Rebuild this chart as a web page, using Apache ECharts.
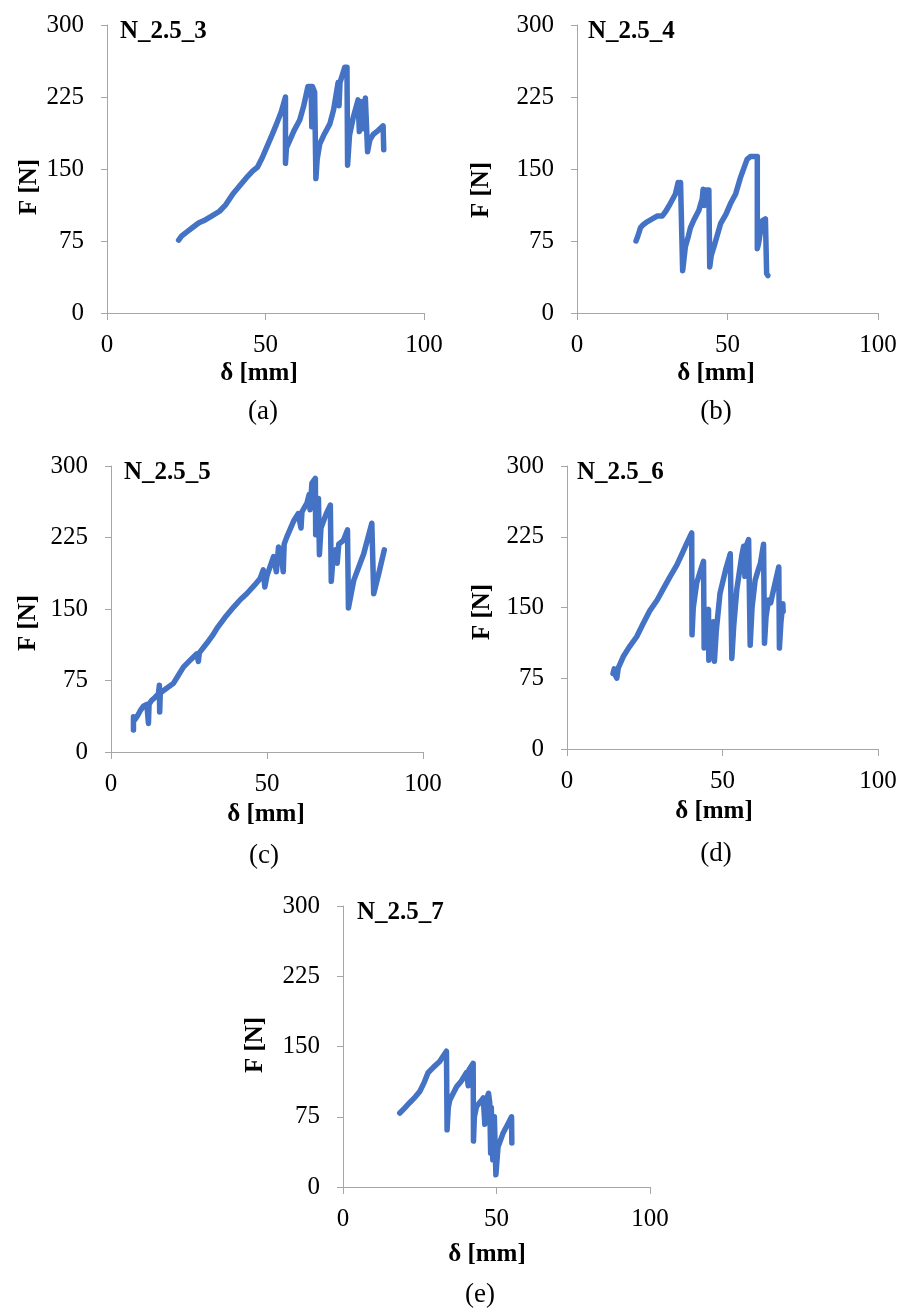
<!DOCTYPE html>
<html>
<head>
<meta charset="utf-8">
<script src="https://cdn.jsdelivr.net/npm/echarts@6/dist/echarts.min.js"></script>
<style>
  html, body { margin: 0; padding: 0; background: #fff; }
</style>
</head>
<body>
<div id="main" style="width: 900px;height:1313px;"></div>
<script>
// 每个试样的 δ [mm] - F [N] 曲线
var sampleNames = ["N_2.5_3", "N_2.5_4", "N_2.5_5", "N_2.5_6", "N_2.5_7"];
var captions = ["(a)", "(b)", "(c)", "(d)", "(e)"];
var xTicks = [0, 50, 100];
var yTicks = [0, 75, 150, 225, 300];

var curveA = [
  [22.6, 76], [23.5, 80], [25, 84], [27, 89], [29, 94], [31, 97], [33, 101], [35.5, 106],
  [37.5, 113], [39.7, 124], [42, 133], [44, 141], [46, 148], [47.5, 152], [49, 162],
  [50.3, 172], [52, 185], [53.5, 197], [55, 210], [56.3, 225], [56.3, 156], [56.6, 172],
  [57.7, 180], [59, 190], [60.8, 201], [62, 215], [63.4, 236], [64.4, 236], [64.6, 194],
  [64.8, 236], [65.5, 230], [65.9, 140], [66.3, 160], [67.1, 176], [68.5, 186], [70.3, 197],
  [71.5, 212], [72.9, 240], [73.2, 216], [73.5, 240], [75, 256], [75.7, 256], [75.9, 154],
  [76.5, 185], [77.7, 204], [79.2, 222], [79.6, 189], [80.3, 220], [80.8, 192], [81.5, 224],
  [81.9, 224], [82.2, 168], [82.9, 180], [84, 186], [85.5, 190], [87.1, 195], [87.3, 170]
];
var curveB = [
  [19.6, 75], [20.2, 80], [21.1, 89], [22, 92], [23.3, 95], [25, 98], [26.6, 101], [28.3, 101],
  [29.5, 106], [31, 114], [32.7, 124], [33.6, 136], [34.1, 128], [34.4, 136], [35, 136],
  [35.1, 44], [35.5, 55], [36, 69], [37, 80], [37.7, 89], [39, 98], [40.5, 107], [41.6, 119],
  [41.9, 129], [42.3, 112], [42.7, 128], [43.8, 128], [44.1, 48], [44.6, 60], [45.5, 69],
  [46.5, 80], [47.7, 93], [49.5, 103], [51, 114], [52.7, 124], [54.3, 141], [56.5, 160],
  [57.6, 163], [59.9, 163], [59.9, 67], [60.3, 72], [61.5, 96], [62.6, 98], [63, 41], [63.4, 39]
];
var curveC = [
  [7.2, 23], [7.2, 37], [7.7, 34], [8.5, 38], [9.5, 44], [10.4, 48], [11.5, 50], [12, 30],
  [12.2, 50], [13, 54], [14, 57], [15.2, 61], [15.5, 70], [15.6, 42], [15.8, 62], [17.5, 66],
  [20, 72], [21.5, 80], [23.2, 89], [25, 95], [27.5, 103], [28, 95], [28.3, 104], [30.7, 114],
  [32.5, 122], [34, 130], [36.5, 141], [39.3, 152], [41.5, 160], [43.5, 166], [46, 175],
  [47.8, 182], [48.8, 191], [49.3, 173], [50, 185], [52.1, 205], [53, 189], [53.7, 215],
  [54.5, 210], [55.2, 189], [55.5, 218], [56.4, 226], [58.5, 242], [60, 250], [60.9, 235],
  [61.2, 252], [62.8, 261], [63.5, 270], [63.8, 254], [64.4, 282], [65.5, 287], [65.6, 228],
  [66, 250], [66.5, 266], [66.8, 207], [67.3, 235], [69, 250], [70.3, 259], [70.6, 179],
  [71.2, 205], [72, 212], [72.5, 198], [73, 218], [74.5, 222], [75.8, 233], [76.1, 151],
  [77.8, 180], [81, 208], [83.6, 240], [84.2, 166], [85.8, 187], [87.6, 212]
];
var curveD = [
  [14.8, 80], [15.2, 85], [15.6, 78], [16, 75], [16.5, 86], [18.1, 98], [20, 108], [22.4, 119],
  [24.5, 133], [26.7, 147], [29, 158], [31, 170], [33, 182], [35.3, 195], [37, 207], [38.5, 218],
  [40.1, 229], [40.2, 121], [40.6, 150], [41.7, 176], [43, 190], [43.9, 199], [44.1, 107],
  [44.6, 125], [45.5, 148], [45.6, 94], [46.2, 115], [47.1, 135], [47.4, 93], [48, 125],
  [49.2, 165], [51, 190], [52.5, 207], [53, 96], [53.6, 130], [54.6, 169], [56.2, 205],
  [56.8, 215], [57.2, 183], [57.6, 215], [58.4, 222], [58.9, 110], [59.5, 150], [60.5, 179],
  [61.5, 190], [62.2, 197], [63.2, 217], [63.5, 112], [64, 140], [64.8, 158], [65.5, 155],
  [66.5, 170], [68.1, 193], [68.3, 107], [68.8, 135], [69.4, 154], [69.5, 146]
];
var curveE = [
  [18.5, 79], [20, 84], [21.7, 90], [23.5, 96], [25, 102], [26.5, 112], [27.7, 122], [29.5, 128],
  [31.5, 134], [32.5, 139], [33.7, 145], [33.9, 61], [34.3, 85], [34.8, 93], [37, 107],
  [38.5, 113], [40.2, 122], [40.8, 108], [41, 125], [42.4, 132], [42.5, 49], [42.8, 75],
  [43.5, 86], [45, 92], [45.7, 95], [46.2, 67], [46.5, 92], [47.4, 100], [47.8, 90], [48.1, 36],
  [48.3, 85], [48.8, 29], [49.3, 75], [49.6, 75], [49.8, 13], [50.5, 43], [51.3, 50], [52.2, 58],
  [53.5, 66], [54.9, 75], [55, 47]
];
var curves = [curveA, curveB, curveC, curveD, curveE];

// 每个子图的绘图区位置
var grids = [
  { left: 107, top: 25, width: 317, height: 288 },
  { left: 577, top: 25, width: 301, height: 288 },
  { left: 111, top: 466, width: 312, height: 286 },
  { left: 567, top: 466, width: 311, height: 283 },
  { left: 343, top: 906, width: 307, height: 281 }
];

var serif = '"Liberation Serif", "Times New Roman", serif';
var lineColor = "#4472C4";
var axisGray = "#A6A6A6";

var myChart = echarts.init(document.getElementById("main"));

var xAxes = [], yAxes = [], series = [], graphics = [];
grids.forEach(function(g, i) {
  xAxes.push({
    gridIndex: i,
    type: "value",
    min: xTicks[0],
    max: xTicks[xTicks.length - 1],
    interval: 50,
    splitLine: { show: false },
    axisLine: { lineStyle: { color: axisGray, width: 1 } },
    axisTick: { show: true, length: 7, lineStyle: { color: axisGray } },
    axisLabel: { color: "#000", fontFamily: serif, fontSize: 25, margin: 20 }
  });
  yAxes.push({
    gridIndex: i,
    type: "value",
    min: yTicks[0],
    max: yTicks[yTicks.length - 1],
    interval: 75,
    splitLine: { show: false },
    axisLine: { show: true, lineStyle: { color: axisGray, width: 1 } },
    axisTick: { show: true, length: 6, lineStyle: { color: axisGray } },
    axisLabel: { color: "#000", fontFamily: serif, fontSize: 25, margin: 23 }
  });
  series.push({
    name: sampleNames[i],
    type: "line",
    xAxisIndex: i,
    yAxisIndex: i,
    showSymbol: false,
    animation: false,
    lineStyle: { color: lineColor, width: 5.5, join: "round", cap: "round" },
    data: curves[i]
  });
});

// 文字位置（样品名、坐标轴名称、子图编号）
var nameLabels = [[120, 32], [588, 32], [124, 473], [577, 473], [357, 913]];
var yNames = [[30, 187], [482, 190], [29, 623], [483, 612], [256, 1045]];
var xNames = [[259, 374], [716, 374], [266, 815], [714, 812], [487, 1255]];
var capPos = [[263, 412], [716, 412], [264, 856], [716, 854], [480, 1295]];

function txt(x, y, s, font, align, rot) {
  return {
    type: "text",
    x: x,
    y: y,
    rotation: rot || 0,
    style: {
      text: s,
      font: font,
      fill: "#000",
      textAlign: align,
      textVerticalAlign: "middle",
      align: align,
      verticalAlign: "middle"
    }
  };
}

for (var i = 0; i < 5; i++) {
  graphics.push(txt(nameLabels[i][0], nameLabels[i][1], sampleNames[i], "bold 25px " + serif, "left"));
  graphics.push(txt(yNames[i][0], yNames[i][1], "F [N]", "bold 25px " + serif, "center", Math.PI / 2));
  graphics.push(txt(xNames[i][0], xNames[i][1], "δ [mm]", "bold 25px " + serif, "center"));
  graphics.push(txt(capPos[i][0], capPos[i][1], captions[i], "27px " + serif, "center"));
}

var option = {
  backgroundColor: "#fff",
  animation: false,
  grid: grids,
  xAxis: xAxes,
  yAxis: yAxes,
  series: series,
  graphic: graphics
};
myChart.setOption(option);
</script>
</body>
</html>
